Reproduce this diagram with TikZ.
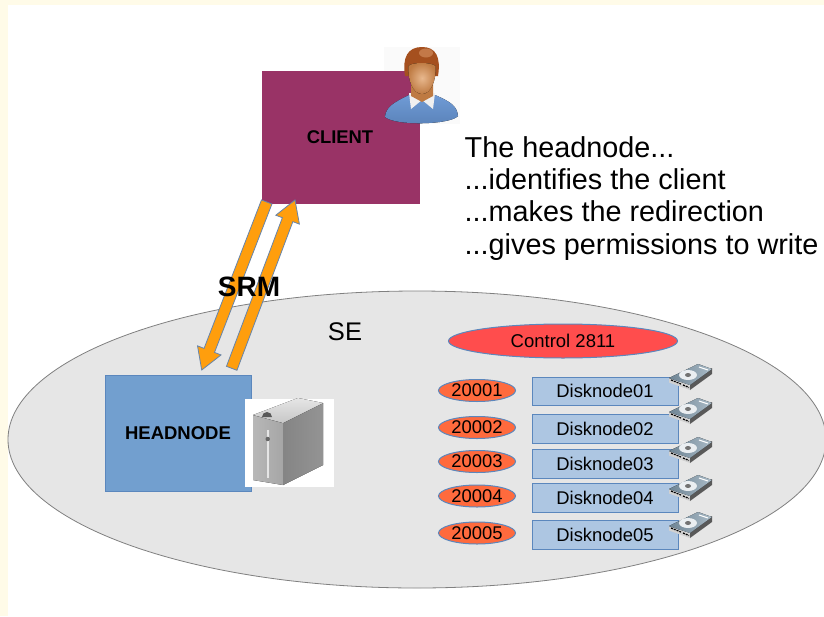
\documentclass[tikz,border=0pt]{standalone}
\usepackage{fontspec}
\setmainfont{Liberation Sans}
\usetikzlibrary{calc,shapes.geometric}
\definecolor{cream}{HTML}{FFFBE8}
\definecolor{seGray}{HTML}{E6E6E6}
\definecolor{plum}{HTML}{993366}
\definecolor{headBlue}{HTML}{729FCF}
\definecolor{edgeBlue}{HTML}{5B87BD}
\definecolor{diskBlue}{HTML}{ADC6E2}
\definecolor{ctrlRed}{HTML}{FF4D4D}
\definecolor{portRed}{HTML}{FF6A3D}
\definecolor{flow}{HTML}{FF9E0D}
\definecolor{hair}{HTML}{A5501F}
\definecolor{hairlight}{HTML}{D08A5A}
\definecolor{skin}{HTML}{E8B88E}
\definecolor{skindark}{HTML}{BE7A42}
\definecolor{shirt}{HTML}{6F9BD6}
\definecolor{shirtdark}{HTML}{5A82B8}
\definecolor{plateA}{HTML}{6E8494}
\definecolor{plateB}{HTML}{A9BAC6}
\tikzset{
  px/.style={x=1pt,y=-1pt},
  boxnode/.style={draw=#1,line width=1pt,inner sep=0pt,anchor=north west},
  portnode/.style={ellipse,draw=edgeBlue,line width=1pt,fill=portRed,minimum width=77pt,minimum height=22pt,inner sep=0pt,font=\fontsize{18.4}{20}\selectfont},
  disknode/.style={rectangle,draw=edgeBlue,line width=1pt,fill=diskBlue,minimum width=146pt,inner sep=0pt,font=\fontsize{18.4}{20}\selectfont},
  flowarrow/.style={draw=edgeBlue!70!gray,line width=.8pt,fill=flow,line join=miter},
  drive/.pic={
    \fill[black!18] (0,-3) -- (21,5) -- (21,9) -- (0,1.5) -- cycle;
    \fill[black!65] (21,4) -- (43,-13) -- (43,-7) -- (21,9) -- cycle;
    \fill[left color=plateA,right color=plateB] (0,-3) -- (29,-17) -- (43,-12) -- (21,4) -- cycle;
    \fill[white!75!plateB] (19,-6) ellipse [x radius=9,y radius=5];
    \fill[black!55] (19,-6) ellipse [x radius=3,y radius=2];
    \draw[white,line width=1pt] (30,-14) -- (39,-11);
    \draw[black,line width=1.2pt,dash pattern=on 2pt off 1pt] (2,-1) -- (12,3);
    \draw[black,line width=1.2pt,dash pattern=on 2pt off 1pt] (14,4) -- (20,6.5);
  }
}
\newcommand{\blockflow}[2]{%
  \draw[flowarrow]
    ($(#1)!5.6pt!90:(#2)$) --
    ($($(#2)!21pt!(#1)$)!5.6pt!90:(#2)$) --
    ($($(#2)!21pt!(#1)$)!12.6pt!90:(#2)$) --
    (#2) --
    ($($(#2)!21pt!(#1)$)!12.6pt!-90:(#2)$) --
    ($($(#2)!21pt!(#1)$)!5.6pt!-90:(#2)$) --
    ($(#1)!5.6pt!-90:(#2)$) -- cycle;}
\begin{document}
\begin{tikzpicture}[px]
\useasboundingbox (0,0) rectangle (824,616);
\fill[cream] (0,0) rectangle (824,616);
\fill[white] (8,5) rectangle (824,616);
% storage element
\node[ellipse,draw=black!50,line width=.8pt,fill=seGray,minimum width=818pt,minimum height=297pt,inner sep=0pt] (se) at (417,439.5) {};
\node[font=\fontsize{25.5}{28}\selectfont] (selabel) at (345,332) {SE};
% client
\fill[black!2] (384,47) rectangle (460,124);
\node[boxnode=plum,fill=plum,minimum width=156.5pt,minimum height=131.5pt] (client) at (262,71) {};
\node[font=\bfseries\fontsize{18.4}{20}\selectfont] (clientlabel) at (340,137) {CLIENT};
% person icon
\fill[top color=shirt,bottom color=shirtdark]
  (385,117) .. controls (386,107) and (393,103) .. (409,95) -- (435,95)
  .. controls (451,102) and (457,106) .. (458,116) .. controls (450,125) and (395,126) .. (385,117) -- cycle;
\fill[black!6] (409,93) -- (411,109) -- (422,100) -- (433,109) -- (435,93) -- cycle;
\fill[skindark] (411,84) -- (433,84) -- (433,96) -- (422,102) -- (411,96) -- cycle;
\fill[hair] (405,76) .. controls (402,57) and (408,47) .. (422,47) .. controls (436,47) and (441,57) .. (438,76) -- cycle;
\fill[inner color=skin,outer color=skindark]
  (408.5,66) .. controls (412,62) and (431,62) .. (435.5,66)
  .. controls (436.5,80) and (431,94) .. (422,94)
  .. controls (413,94) and (407.5,80) .. (408.5,66) -- cycle;
\fill[hairlight,opacity=.7] (426,53) ellipse [x radius=7,y radius=4.5];
% texts
\node[anchor=north west,align=left,inner sep=0pt,font=\fontsize{28.8}{32.4}\selectfont] (notes) at (464.5,136)
  {The headnode...\\...identifies the client\\...makes the redirection\\...gives permissions to write};
% head node
\node[boxnode=edgeBlue,fill=headBlue,minimum width=145.5pt,minimum height=115.5pt] (head) at (105,375) {};
\node[font=\bfseries\fontsize{18.5}{20}\selectfont] (headlabel) at (178,433) {HEADNODE};
% server
\fill[white] (245,399) rectangle (334,487);
\fill[left color=black!28,right color=black!35] (253,415) -- (253,480) -- (283,485) -- (283,423) -- cycle;
\fill[left color=black!48,right color=black!42] (283,423) -- (283,485) -- (323,465) -- (323,403) -- cycle;
\fill[top color=black!10,bottom color=black!22] (253,415) -- (283,423) -- (323,403) -- (298,398) -- cycle;
\fill[black!65] (262,417) arc[start angle=180,end angle=360,radius=5] -- cycle;
\fill[white!90!black] (266.5,430) rectangle (269,478);
\fill[black!60] (267.7,439) circle (2.2);
% connectors
\coordinate (t1) at (266.7,202);
\coordinate (h1) at (201.7,370);
\coordinate (t2) at (231.7,368.3);
\coordinate (h2) at (295,200);
\blockflow{t1}{h1}
\blockflow{t2}{h2}
\node[font=\bfseries\fontsize{28}{30}\selectfont] (srm) at (249,287) {SRM};
% control
\node[ellipse,draw=edgeBlue,line width=1pt,fill=ctrlRed,minimum width=229pt,minimum height=34pt,inner sep=0pt,font=\fontsize{18.5}{20}\selectfont] (ctrl) at (563,341) {Control 2811};
% ports
\node[portnode] (p1) at (477,390.5) {20001};
\node[portnode] (p2) at (477,427.5) {20002};
\node[portnode] (p3) at (477,461.5) {20003};
\node[portnode] (p4) at (477,496) {20004};
\node[portnode] (p5) at (477,533) {20005};
% disk nodes
\node[disknode,minimum height=28.5pt] (d1) at (605,391.3) {Disknode01};
\node[disknode,minimum height=29pt] (d2) at (605,428.5) {Disknode02};
\node[disknode,minimum height=29pt] (d3) at (605,463.5) {Disknode03};
\node[disknode,minimum height=29pt] (d4) at (605,497.5) {Disknode04};
\node[disknode,minimum height=29pt] (d5) at (605,534.5) {Disknode05};
% drives
\pic at (669,381) {drive};
\pic at (669,415) {drive};
\pic at (669,454) {drive};
\pic at (669,492) {drive};
\pic at (669,529) {drive};
\end{tikzpicture}
\end{document}
